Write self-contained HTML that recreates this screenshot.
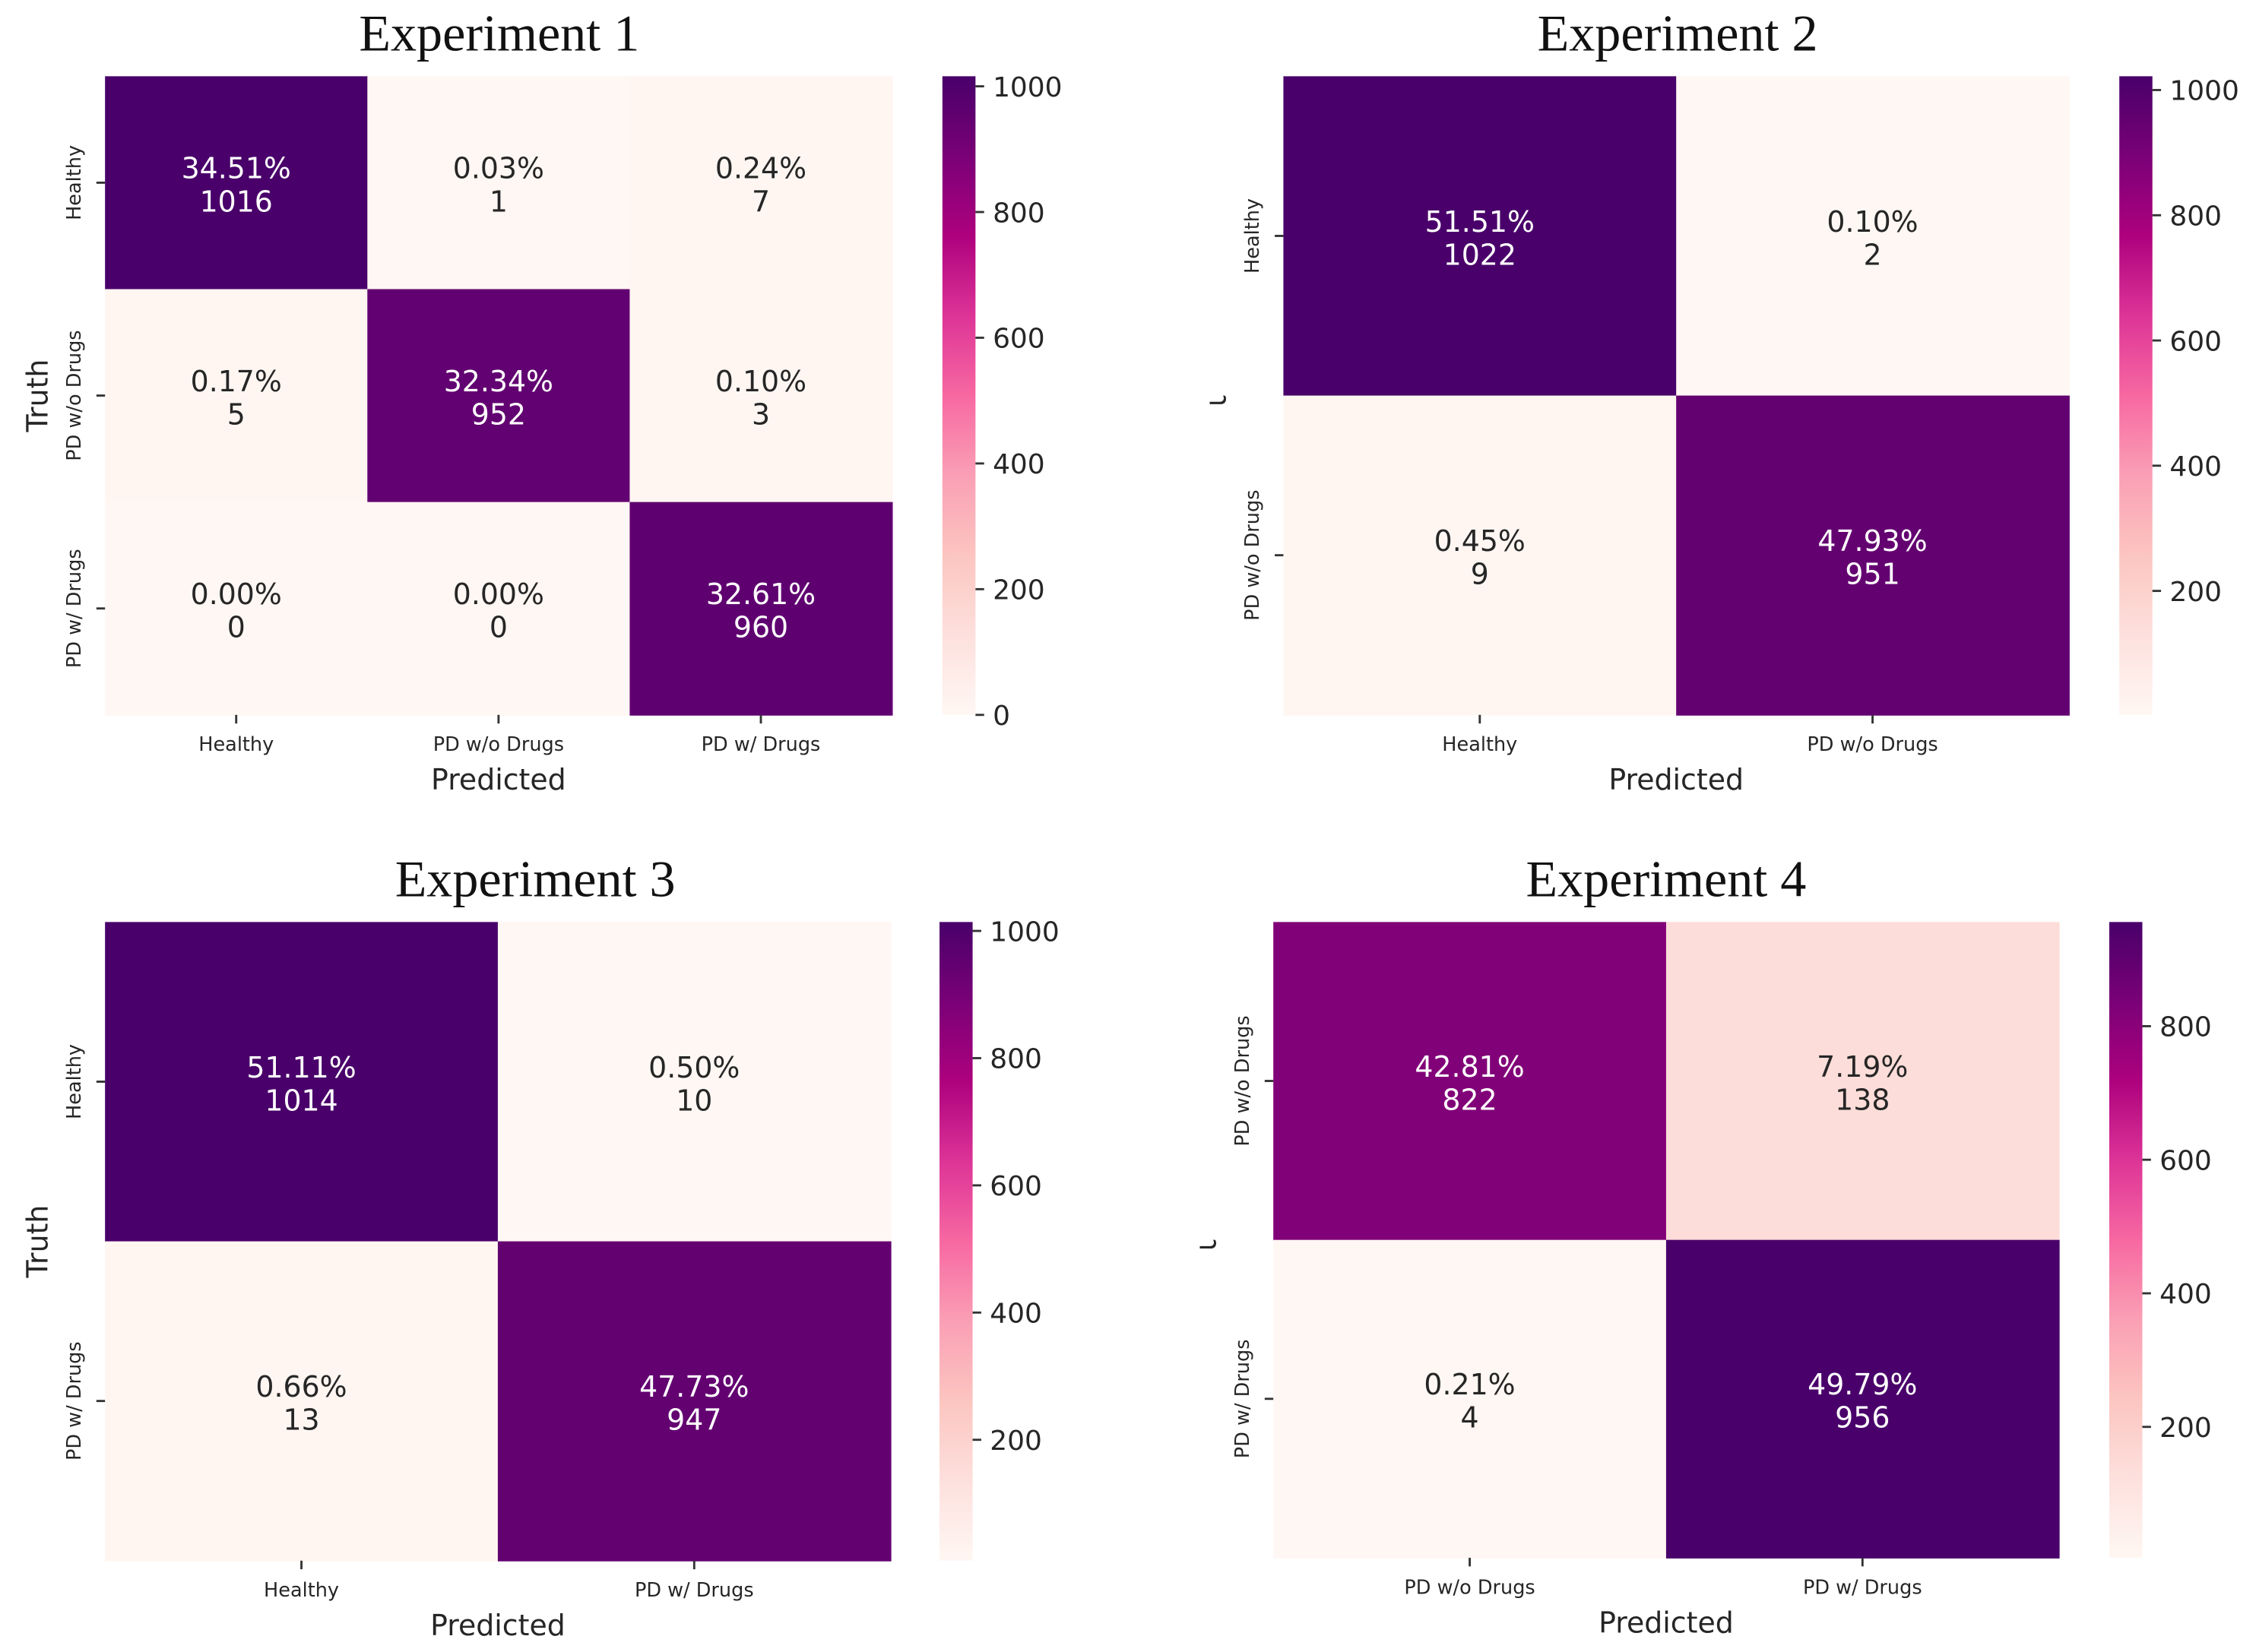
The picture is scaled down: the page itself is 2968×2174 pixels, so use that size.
<!DOCTYPE html>
<html><head><meta charset="utf-8"><style>html,body{margin:0;padding:0;background:#fff}svg{display:block}</style></head>
<body>
<svg id="fig" xmlns="http://www.w3.org/2000/svg" width="2968" height="2174" viewBox="0 0 1568 1148.5"></svg>
<script>
const titles1 = ["Experiment 1","Experiment 2","Experiment 3","Experiment 4"];
const labels1 = ["Healthy","PD w/o Drugs","PD w/ Drugs"];
const labels2 = ["Healthy","PD w/o Drugs"];
const labels3 = ["Healthy","PD w/ Drugs"];
const labels4 = ["PD w/o Drugs","PD w/ Drugs"];
const counts1 = [[1016,1,7],[5,952,3],[0,0,960]];
const pcts1 = ["34.51%","0.03%","0.24%","0.17%","32.34%","0.10%","0.00%","0.00%","32.61%"];
const counts2 = [[1022,2],[9,951]];
const pcts2 = ["51.51%","0.10%","0.45%","47.93%"];
const counts3 = [[1014,10],[13,947]];
const pcts3 = ["51.11%","0.50%","0.66%","47.73%"];
const counts4 = [[822,138],[4,956]];
const pcts4 = ["42.81%","7.19%","0.21%","49.79%"];
const ticks1 = [0,200,400,600,800,1000];
const ticks2 = [200,400,600,800,1000];
const ticks3 = [200,400,600,800,1000];
const ticks4 = [200,400,600,800];

const panels = [
 {t:titles1[0],lab:labels1,c:counts1,p:pcts1,ticks:ticks1,x0:73,x1:620,y0:53,y1:497,cb:655,tc:347,truth:true},
 {t:titles1[1],lab:labels2,c:counts2,p:pcts2,ticks:ticks2,x0:892,x1:1438,y0:53,y1:497,cb:1473,tc:1166,truth:'clip'},
 {t:titles1[2],lab:labels3,c:counts3,p:pcts3,ticks:ticks3,x0:73,x1:619,y0:641,y1:1085,cb:653,tc:372,truth:true},
 {t:titles1[3],lab:labels4,c:counts4,p:pcts4,ticks:ticks4,x0:885,x1:1431,y0:641,y1:1083,cb:1466,tc:1158,truth:'clip'}
];
const stops=["#fff7f3","#fde0dd","#fcc5c0","#fa9fb5","#f768a1","#dd3497","#ae017e","#7a0177","#49006a"];
function hex(h){return [1,3,5].map(i=>parseInt(h.substr(i,2),16));}
function cmap(t){t=Math.max(0,Math.min(1,t));const s=t*8,i=Math.min(7,Math.floor(s)),f=s-i;const a=hex(stops[i]),b=hex(stops[i+1]);return `rgb(${a.map((v,k)=>Math.round(v+(b[k]-v)*f)).join(',')})`;}
const svg=document.getElementById('fig');const NS="http://www.w3.org/2000/svg";
function el(tag,attrs,parent,txt){const e=document.createElementNS(NS,tag);for(const k in attrs)e.setAttribute(k,attrs[k]);if(txt!==undefined)e.textContent=txt;(parent||svg).appendChild(e);return e;}
const defs=el('defs',{});
const sans='"DejaVu Sans","Liberation Sans",sans-serif';
panels.forEach((P,pi)=>{
 const g=el('g',{});
 
 
 const flat=P.c.flat();const vmin=Math.min(...flat),vmax=Math.max(...flat);
 const n=P.lab.length;const cw=(P.x1-P.x0)/n,ch=(P.y1-P.y0)/n;
 const tt=el('text',{x:P.tc,y:35,'font-family':'"Liberation Serif",serif','font-size':36,'text-anchor':'middle',fill:'#111'},g,P.t);
 if(pi>=2) tt.setAttribute('y',35+588);
 
 
 for(let r=0;r<n;r++)for(let c=0;c<n;c++){
  const v=P.c[r][c];const t=(v-vmin)/(vmax-vmin);
  const rc=el('rect',{x:P.x0+c*cw,y:P.y0+r*ch,width:cw+0.5,height:ch+0.5,fill:cmap(t)},g);
  
  
  const col=t>0.5?'#fff':'#262626';const cx=P.x0+(c+0.5)*cw,cy=P.y0+(r+0.5)*ch;
  const tx=el('text',{x:cx,y:cy-3,'font-family':sans,'font-size':20,'text-anchor':'middle',fill:col},g);
  
  
  el('tspan',{x:cx,dy:0},tx,P.p[r*n+c]);
  el('tspan',{x:cx,dy:23},tx,String(v));
 }
 for(let i=0;i<n;i++){
  const cx=P.x0+(i+0.5)*cw;
  el('line',{x1:cx,x2:cx,y1:P.y1,y2:P.y1+6,stroke:'#333','stroke-width':1.5},g);
  const xl=el('text',{x:cx,y:P.y1+25,'font-family':sans,'font-size':13.5,'text-anchor':'middle',fill:'#262626'},g,P.lab[i]);
  
  
  const cy=P.y0+(i+0.5)*ch;
  el('line',{x1:P.x0-6,x2:P.x0,y1:cy,y2:cy,stroke:'#333','stroke-width':1.5},g);
  const yx=P.x0-17;
  const yl=el('text',{x:yx,y:cy,'font-family':sans,'font-size':13.5,'text-anchor':'middle',fill:'#262626',transform:`rotate(-90 ${yx} ${cy})`},g,P.lab[i]);
  
  
 }
 const xt=el('text',{x:(P.x0+P.x1)/2,y:P.y1+52,'font-family':sans,'font-size':20,'text-anchor':'middle',fill:'#262626'},g,'Predicted');
 
 
 const ty=(P.y0+P.y1)/2,txp=P.x0-40;
 if(P.truth===true){
  const yt=el('text',{x:txp,y:ty,'font-family':sans,'font-size':20,'text-anchor':'middle',fill:'#262626',transform:`rotate(-90 ${txp} ${ty})`},g,'Truth');
  
  
 } else {
  const id='clip'+pi;const cp=el('clipPath',{id:id},defs);el('rect',{x:P.x0-46,y:0,width:6,height:1200},cp);
  const yt=el('text',{x:txp,y:ty,'font-family':sans,'font-size':20,'text-anchor':'middle',fill:'#262626',transform:`rotate(-90 ${txp} ${ty})`,'clip-path':`url(#${id})`},g,'Truth');
  
  
 }
 const gid='grad'+pi;const lg=el('linearGradient',{id:gid,x1:0,y1:1,x2:0,y2:0},defs);
 for(let k=0;k<=8;k++)el('stop',{offset:k/8,'stop-color':stops[k]},lg);
 const cb=el('rect',{x:P.cb,y:P.y0,width:23,height:P.y1-P.y0,fill:`url(#${gid})`},g);
 
 
 P.ticks.forEach(tv=>{
  const yy=P.y1-(tv-vmin)/(vmax-vmin)*(P.y1-P.y0);
  el('line',{x1:P.cb+23,x2:P.cb+29,y1:yy,y2:yy,stroke:'#333','stroke-width':1.5},g);
  const tl=el('text',{x:P.cb+35,y:yy+7,'font-family':sans,'font-size':19,fill:'#262626'},g,String(tv));
  
  
 });
});
</script>
</body></html>
